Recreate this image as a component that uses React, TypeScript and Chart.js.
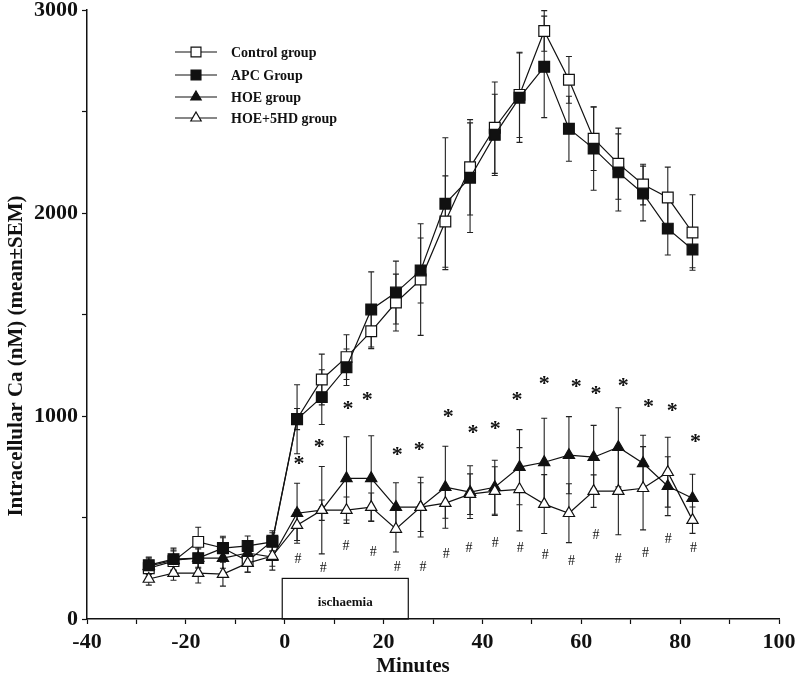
import React, { useEffect, useRef } from "react";
import { Chart, registerables } from "chart.js";

Chart.register(...registerables);

const minutes = [-27.5, -22.5, -17.5, -12.5, -7.5, -2.5, 2.5, 7.5, 12.5, 17.5, 22.5, 27.5, 32.5, 37.5, 42.5, 47.5, 52.5, 57.5, 62.5, 67.5, 72.5, 77.5, 82.5];

const controlMean = [250, 285, 380, 350, 285, 385, 985, 1180, 1290, 1417, 1559, 1672, 1958, 2225, 2420, 2582, 2897, 2656, 2366, 2243, 2140, 2076, 1904];
const controlSem = [40, 50, 72, 50, 54, 50, 52, 125, 110, 85, 140, 275, 225, 235, 225, 210, 100, 115, 157, 175, 100, 150, 186];

const apcMean = [265, 295, 300, 349, 360, 380, 984, 1093, 1240, 1525, 1608, 1717, 2046, 2174, 2385, 2568, 2720, 2415, 2317, 2200, 2096, 1923, 1820];
const apcSem = [40, 54, 45, 59, 49, 45, 170, 135, 90, 185, 155, 160, 325, 270, 200, 220, 250, 160, 205, 190, 135, 130, 90];

const hoeMean = [260, 290, 300, 300, 325, 305, 521, 536, 693, 693, 551, 551, 649, 625, 649, 748, 772, 807, 797, 846, 767, 654, 595];
const hoeSem = [40, 50, 50, 50, 50, 64, 148, 215, 205, 210, 120, 147, 202, 130, 133, 185, 217, 190, 157, 195, 138, 145, 118];

const hoe5hdMean = [197, 226, 226, 221, 275, 310, 462, 536, 536, 551, 443, 551, 571, 615, 630, 639, 566, 521, 630, 630, 644, 723, 487];
const hoe5hdSem = [30, 35, 49, 59, 45, 50, 75, 50, 65, 70, 113, 120, 75, 100, 120, 205, 145, 145, 80, 215, 205, 172, 65];

const starX = [2.9, 7.0, 12.8, 16.7, 22.75, 27.2, 33.1, 38.1, 42.6, 47.0, 52.5, 59.0, 63.0, 68.5, 73.6, 78.4, 83.1];
const starY = [782, 866, 1053, 1097, 826, 851, 1013, 935, 954, 1097, 1176, 1161, 1126, 1166, 1063, 1043, 890];

const hashX = [2.7, 7.8, 12.4, 17.9, 22.75, 28.0, 32.7, 37.3, 42.6, 47.65, 52.7, 58.0, 63.0, 67.5, 73.0, 77.6, 82.7];
const hashY = [295, 251, 359, 330, 256, 256, 320, 349, 374, 349, 315, 285, 413, 295, 325, 394, 349];

const ischaemiaStart = -0.5;
const ischaemiaEnd = 25;
const ischaemiaTop = 200;
const ischaemiaLabel = "ischaemia";

const xTickLabels = [-40, -20, 0, 20, 40, 60, 80, 100];
const yTickLabels = [0, 1000, 2000, 3000];

const seriesNames = ["Control group", "APC Group", "HOE group", "HOE+5HD group"];
const xTitle = "Minutes";
const yTitle = "Intracellular Ca (nM) (mean\u00B1SEM)";

const FONT = '"Liberation Serif", "Times New Roman", serif';

type Marker = { style: "rect" | "triangle"; filled: boolean; r: number };
const markers: Marker[] = [
  { style: "rect", filled: false, r: 7.6 },
  { style: "rect", filled: true, r: 7.6 },
  { style: "triangle", filled: true, r: 6.5 },
  { style: "triangle", filled: false, r: 6.5 },
];

function drawMarker(ctx: CanvasRenderingContext2D, m: Marker, x: number, y: number) {
  ctx.beginPath();
  if (m.style === "rect") {
    const s = m.r * Math.SQRT1_2;
    ctx.rect(x - s, y - s, 2 * s, 2 * s);
  } else {
    let rad = 0;
    const r = m.r;
    ctx.moveTo(x + Math.sin(rad) * r, y - Math.cos(rad) * r);
    rad += (2 * Math.PI) / 3;
    ctx.lineTo(x + Math.sin(rad) * r, y - Math.cos(rad) * r);
    rad += (2 * Math.PI) / 3;
    ctx.lineTo(x + Math.sin(rad) * r, y - Math.cos(rad) * r);
    ctx.closePath();
  }
  ctx.fillStyle = m.filled ? "#111" : "#fff";
  ctx.fill();
  ctx.strokeStyle = "#111";
  ctx.lineWidth = 1.2;
  ctx.stroke();
}

const sems = [controlSem, apcSem, hoeSem, hoe5hdSem];

const decorPlugin = {
  id: "decor",
  beforeDatasetsDraw(chart: any) {
    const ctx: CanvasRenderingContext2D = chart.ctx;
    const xs = chart.scales.x;
    const ys = chart.scales.y;
    ctx.save();
    // ischaemia box
    const bx0 = xs.getPixelForValue(ischaemiaStart);
    const bx1 = xs.getPixelForValue(ischaemiaEnd);
    const by0 = ys.getPixelForValue(ischaemiaTop);
    const by1 = ys.getPixelForValue(0);
    ctx.strokeStyle = "#111";
    ctx.lineWidth = 1.2;
    ctx.strokeRect(bx0, by0, bx1 - bx0, by1 - by0);
    ctx.fillStyle = "#111";
    ctx.font = `bold 13px ${FONT}`;
    ctx.textAlign = "center";
    ctx.textBaseline = "middle";
    ctx.fillText(ischaemiaLabel, (bx0 + bx1) / 2, by0 + (by1 - by0) * 0.6);

    // error bars
    chart.data.datasets.forEach((ds: any) => {
      const err = sems[ds.semIndex];
      ds.data.forEach((p: any, i: number) => {
        const px = xs.getPixelForValue(p.x);
        const yTop = ys.getPixelForValue(p.y + err[i]);
        const yBot = ys.getPixelForValue(p.y - err[i]);
        ctx.strokeStyle = "#222";
        ctx.lineWidth = 1.1;
        ctx.beginPath();
        ctx.moveTo(px, yTop);
        ctx.lineTo(px, yBot);
        ctx.moveTo(px - 3, yTop);
        ctx.lineTo(px + 3, yTop);
        ctx.moveTo(px - 3, yBot);
        ctx.lineTo(px + 3, yBot);
        ctx.stroke();
      });
    });

    // significance markers
    ctx.fillStyle = "#111";
    ctx.textAlign = "center";
    ctx.textBaseline = "middle";
    ctx.font = `bold 22px ${FONT}`;
    starX.forEach((sx, i) => {
      ctx.fillText("*", xs.getPixelForValue(sx), ys.getPixelForValue(starY[i]) + 4);
    });
    ctx.font = `14px ${FONT}`;
    hashX.forEach((hx, i) => {
      ctx.fillText("#", xs.getPixelForValue(hx), ys.getPixelForValue(hashY[i]));
    });
    ctx.restore();
  },
  afterDraw(chart: any) {
    const ctx: CanvasRenderingContext2D = chart.ctx;
    ctx.save();
    // legend
    const rows = [52, 75, 97, 118];
    seriesNames.forEach((name, i) => {
      const y = rows[i];
      ctx.strokeStyle = "#111";
      ctx.lineWidth = 1.2;
      ctx.beginPath();
      ctx.moveTo(175, y);
      ctx.lineTo(217, y);
      ctx.stroke();
      drawMarker(ctx, { ...markers[i], r: markers[i].style === "rect" ? 7 : 6 }, 196, y);
      ctx.fillStyle = "#111";
      ctx.font = `bold 14px ${FONT}`;
      ctx.textAlign = "left";
      ctx.textBaseline = "middle";
      ctx.fillText(name, 231, y + 1);
    });
    // axis titles
    ctx.font = `bold 21px ${FONT}`;
    ctx.textAlign = "center";
    ctx.textBaseline = "middle";
    ctx.fillText(xTitle, 413, 667);
    ctx.translate(17, 356);
    ctx.rotate(-Math.PI / 2);
    ctx.fillText(yTitle, 0, 0);
    ctx.restore();
  },
};

export default function App() {
  const ref = useRef<HTMLCanvasElement | null>(null);
  useEffect(() => {
    if (!ref.current) return;
    const means = [controlMean, apcMean, hoeMean, hoe5hdMean];
    const orders = [3, 2, 1, 0];
    const datasets = means.map((vals, k) => ({
      label: seriesNames[k],
      semIndex: k,
      order: orders[k],
      data: minutes.map((t, i) => ({ x: t, y: vals[i] })),
      borderColor: "#111",
      borderWidth: 1.2,
      pointStyle: markers[k].style,
      pointRadius: markers[k].r,
      pointHoverRadius: markers[k].r,
      pointBackgroundColor: markers[k].filled ? "#111" : "#fff",
      pointBorderColor: "#111",
      pointBorderWidth: 1.2,
      tension: 0,
      fill: false,
    }));
    const chart = new Chart(ref.current, {
      type: "line",
      data: { datasets: datasets as any },
      options: {
        animation: false,
        responsive: false,
        devicePixelRatio: 1,
        layout: { padding: { top: 10, right: 21, left: 0, bottom: 0 } },
        plugins: { legend: { display: false }, tooltip: { enabled: false } },
        scales: {
          x: {
            type: "linear",
            min: -40,
            max: 100,
            afterFit: (s: any) => {
              s.height = 60;
              s.paddingLeft = 0;
              s.paddingRight = 0;
            },
            ticks: {
              stepSize: 10,
              autoSkip: false,
              maxRotation: 0,
              padding: 5,
              color: "#111",
              font: { family: FONT, size: 22, weight: "bold" },
              callback: (v: any) => (xTickLabels.includes(Number(v)) ? String(v) : ""),
            },
            grid: { drawOnChartArea: false, drawTicks: true, tickLength: 5, color: "#111", tickWidth: 1.2 },
            border: { display: true, color: "#111", width: 1.5 },
          },
          y: {
            type: "linear",
            min: 0,
            max: 3000,
            afterFit: (s: any) => {
              s.width = 87;
              s.paddingTop = 0;
              s.paddingBottom = 0;
            },
            ticks: {
              stepSize: 500,
              autoSkip: false,
              padding: 4,
              color: "#111",
              font: { family: FONT, size: 22, weight: "bold" },
              callback: (v: any) => (yTickLabels.includes(Number(v)) ? String(v) : ""),
            },
            grid: { drawOnChartArea: false, drawTicks: true, tickLength: 5, color: "#111", tickWidth: 1.2 },
            border: { display: true, color: "#111", width: 1.5 },
          },
        },
      },
      plugins: [decorPlugin],
    });
    return () => chart.destroy();
  }, []);
  return (
    <div style={{ position: "absolute", left: 0, top: 0, width: 800, height: 679, background: "#fff" }}>
      <canvas ref={ref} width={800} height={679} />
    </div>
  );
}
